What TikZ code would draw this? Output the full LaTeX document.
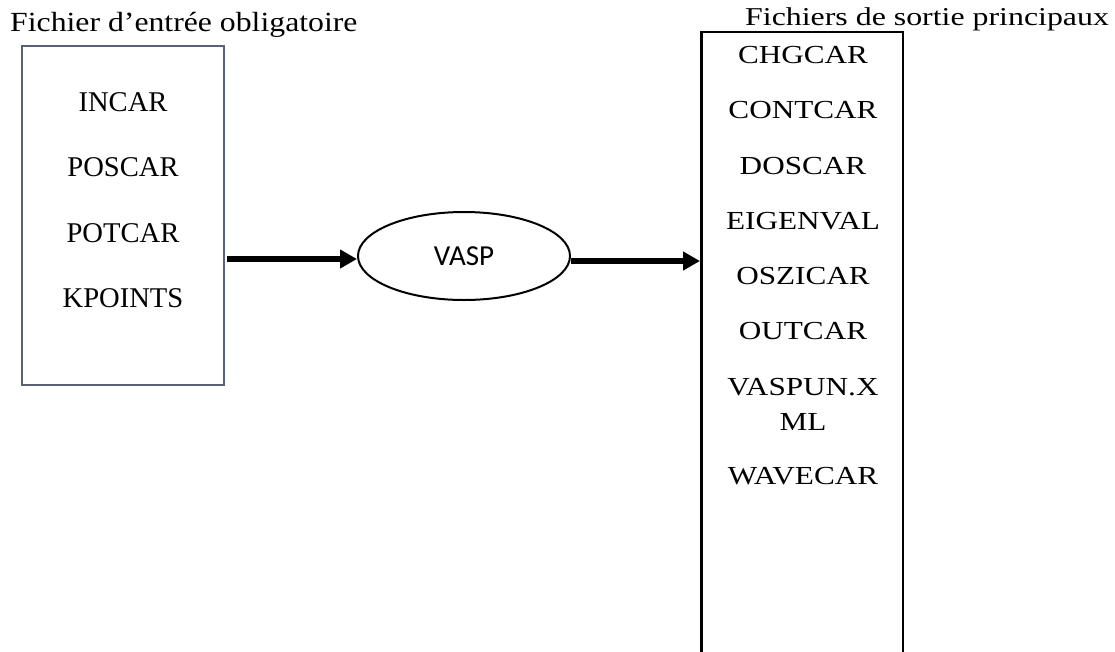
\documentclass[tikz,border=0pt]{standalone}
\usepackage{fontspec}
\setmainfont{Liberation Serif}
\newfontfamily\sansf{Carlito}
\usepackage{graphicx}
\usetikzlibrary{shapes.geometric,arrows.meta}
\definecolor{boxgray}{RGB}{84,99,122}
\begin{document}
\begin{tikzpicture}[x=1pt,y=-1pt,
  lefttxt/.style={font=\fontsize{28.6}{34}\selectfont, inner sep=0},
  righttxt/.style={font=\fontsize{26}{35}\selectfont, inner sep=0, align=center},
  titletxt/.style={inner sep=0, anchor=base west},
  thickarrow/.style={line width=5.5pt, -{Triangle[length=17pt,width=18pt]}}]
\useasboundingbox (0,0) rectangle (1115,651);
% titles
\node[titletxt, font=\fontsize{27.7}{32}\selectfont] (t1) at (10,31) {\scalebox{1.146}[1]{Fichier d’entrée obligatoire}};
\node[titletxt, font=\fontsize{25.7}{30}\selectfont] (t2) at (745,25) {\scalebox{1.24}[1]{Fichiers de sortie principaux}};
% input box
\node[draw=boxgray, line width=1.8pt, minimum width=202pt, minimum height=339pt, inner sep=0] (inbox) at (123,215.5) {};
\node[lefttxt] (incar) at (123,102) {INCAR};
\node[lefttxt] (poscar) at (123,167) {POSCAR};
\node[lefttxt] (potcar) at (123,233) {POTCAR};
\node[lefttxt] (kpoints) at (123,298) {KPOINTS};
% VASP
\node[ellipse, draw, line width=2pt, minimum width=212pt, minimum height=88pt, inner sep=0, font=\sansf\fontsize{29}{34}\selectfont] (vasp) at (464,256) {VASP};
% output box (open at bottom)
\coordinate (rbl) at (701.5,660);
\coordinate (rtl) at (701.5,32);
\coordinate (rtr) at (903,32);
\coordinate (rbr) at (903,660);
\draw[line width=2.8pt] (rbl) -- (rtl) -- (rtr) -- (rbr);
\node[righttxt] (o1) at (803,55.5) {\scalebox{1.2}[1]{CHGCAR}};
\node[righttxt] (o2) at (803,110.5) {\scalebox{1.2}[1]{CONTCAR}};
\node[righttxt] (o3) at (803,166) {\scalebox{1.2}[1]{DOSCAR}};
\node[righttxt] (o4) at (803,221) {\scalebox{1.2}[1]{EIGENVAL}};
\node[righttxt] (o5) at (803,276.5) {\scalebox{1.2}[1]{OSZICAR}};
\node[righttxt] (o6) at (803,331) {\scalebox{1.2}[1]{OUTCAR}};
\node[righttxt] (o7) at (803,387) {\scalebox{1.2}[1]{VASPUN.X}};
\node[righttxt] (o7b) at (803,422) {\scalebox{1.2}[1]{ML}};
\node[righttxt] (o8) at (803,476) {\scalebox{1.2}[1]{WAVECAR}};
% arrows
\coordinate (a1s) at (227,259);
\draw[thickarrow] (a1s) -- (vasp.west |- a1s);
\coordinate (a2e) at (700,261);
\draw[thickarrow] (vasp.east |- a2e) -- (a2e);
\end{tikzpicture}
\end{document}
